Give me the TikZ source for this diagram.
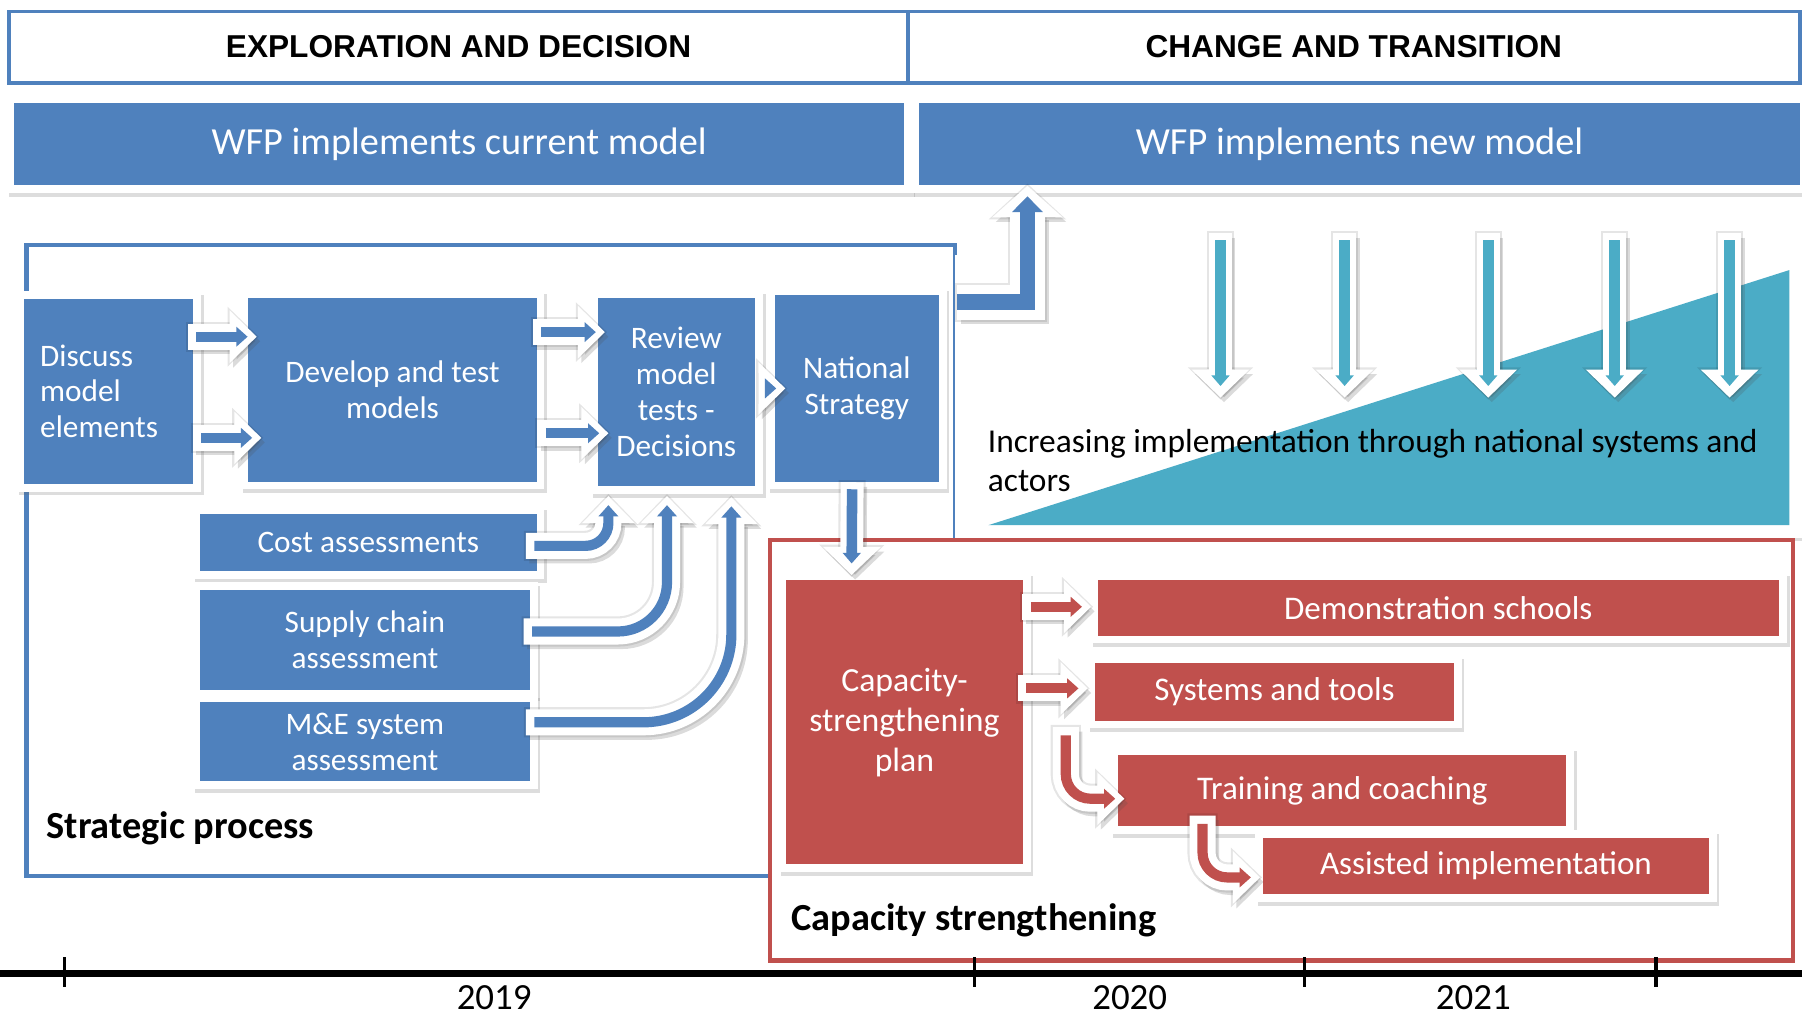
\documentclass[tikz,border=0pt]{standalone}
\usepackage{fontspec}
\setmainfont{Carlito}
\newfontfamily\headfont{Liberation Sans}
\definecolor{wfpblue}{RGB}{79,129,189}
\definecolor{wfpred}{RGB}{192,80,77}
\definecolor{wfpteal}{RGB}{75,172,198}
\usetikzlibrary{positioning,arrows.meta,shadows,calc}
\newcommand{\px}{0.011492cm}

\begin{document}
\begin{tikzpicture}[x=\px, y=-\px,
        every node/.style={inner sep=0pt},
        boxsize/.style 2 args={minimum width=#1*\px, minimum height=#2*\px},
        box/.style={rectangle, fill=#1, text=white, align=center,
            general shadow={fill=black!60, draw=black!60, line width=4.4pt, opacity=0.22,
                shadow xshift=0.8pt, shadow yshift=-1.1pt},
            preaction={draw=white, line width=4.4pt}},
        bluebox/.style={box=wfpblue, font=\fontsize{8.9}{10.2}\selectfont},
        redbox/.style={box=wfpred, font=\fontsize{9.4}{11.3}\selectfont},
        barbox/.style={box=wfpblue, font=\fontsize{10.9}{13}\selectfont},
        headbox/.style={rectangle, draw=wfpblue, line width=1.1pt, fill=white,
            font=\headfont\bfseries\fontsize{9}{11}\selectfont},
        areaframe/.style={rectangle, draw=#1, line width=1.2pt},
        framelabel/.style={anchor=west, font=\bfseries\fontsize{10.9}{13}\selectfont},
        yearlabel/.style={font=\fontsize{10.5}{12}\selectfont},
        fatarrow/.style={
            preaction={draw=black, opacity=0.1, line width=8.6pt, shorten >=-0.6pt, shorten <=-0.6pt,
                -{Triangle[length=8.9pt,width=16.5pt]}},
            preaction={draw=black!70, opacity=0.2, line width=7.4pt, shorten >=0pt, shorten <=0pt,
                transform canvas={shift={(1pt,-1.3pt)}}, -{Triangle[length=7.7pt,width=14.5pt]}},
            preaction={draw=white, line width=7.4pt, shorten >=0pt, shorten <=0pt,
                -{Triangle[length=7.7pt,width=14.5pt]}},
            draw=#1, line width=2.9pt, shorten >=2.6pt, shorten <=2.4pt,
            -{Triangle[length=3.2pt,width=5.5pt]}},
        bigarrow/.style={
            preaction={draw=black, opacity=0.1, line width=11.2pt, shorten >=-0.6pt, shorten <=-0.6pt,
                -{Triangle[length=10.2pt,width=21.5pt]}},
            preaction={draw=black!70, opacity=0.2, line width=10pt, shorten >=0pt, shorten <=0pt,
                transform canvas={shift={(1pt,-1.3pt)}}, -{Triangle[length=9pt,width=19.5pt]}},
            preaction={draw=white, line width=10pt, shorten >=0pt, shorten <=0pt,
                -{Triangle[length=9pt,width=19.5pt]}},
            draw=#1, line width=4.5pt, shorten >=3pt, shorten <=0pt,
            -{Triangle[length=4.5pt,width=8.5pt]}},
        thinarrow/.style={
            preaction={draw=black, opacity=0.1, line width=7.7pt, shorten >=-0.6pt, shorten <=-0.6pt,
                -{Triangle[length=9.2pt,width=18pt]}},
            preaction={draw=black!70, opacity=0.2, line width=6.5pt, shorten >=0pt, shorten <=0pt,
                transform canvas={shift={(1pt,-1.3pt)}}, -{Triangle[length=8pt,width=16pt]}},
            preaction={draw=white, line width=6.5pt, shorten >=0pt, shorten <=0pt,
                -{Triangle[length=8pt,width=16pt]}},
            draw=#1, line width=3pt, shorten >=3.3pt, shorten <=2pt,
            -{Triangle[length=3pt,width=5pt]}}
        ]
        \useasboundingbox (0,0) rectangle (1568,884);

        % the two phases
        \node[headbox, boxsize={782}{62}] (phase1) at (399,41) {EXPLORATION AND DECISION};
        \node[headbox, boxsize={776}{62}] (phase2) at (1178,41) {CHANGE AND TRANSITION};
        \node[barbox, boxsize={775}{71}] (curbar) at (399.5,125.5) {WFP implements current model};
        \node[barbox, boxsize={766}{71}] (newbar) at (1183,125.5) {WFP implements new model};

        % the strategic process
        \node[areaframe=wfpblue, boxsize={808}{549}] (strat) at (427,487.5) {};

        % national systems panel
        \node[box=white, boxsize={723}{232}] (panel) at (1199.5,345) {};
        \fill[wfpteal] (860,457) -- (1557,235) -- (1557,457) -- cycle;
        \foreach \x in {1062,1170,1295,1405,1505}
            \draw[thinarrow=wfpteal] (\x,203) -- (\x,346);
        \node[anchor=west, align=left, font=\fontsize{9.5}{11}\selectfont] (incr) at (859,401)
            {Increasing implementation through national systems and\\actors};

        % capacity strengthening
        \node[areaframe=wfpred, fill=white, line width=1.3pt, boxsize={890}{366}] (capframe) at (1115,653) {};

        % the blue steps
        \node[bluebox, boxsize={147}{161}, align=left, text width=1.367cm, inner xsep=0.161cm] (discuss) at (94.5,340.5)
            {Discuss\\model\\elements};
        \node[bluebox, boxsize={251}{160}] (develop) at (341.5,339) {Develop and test\\models};
        \node[bluebox, boxsize={137}{164}] (review) at (588.5,341) {Review\\model\\tests -\\Decisions};
        \node[bluebox, boxsize={143}{162}] (national) at (745.5,338) {National\\Strategy};
        \node[bluebox, boxsize={293}{50}] (cost) at (320.5,472) {Cost assessments};
        \node[bluebox, boxsize={287}{87}] (supply) at (317.5,556.5) {Supply chain\\assessment};
        \node[bluebox, boxsize={287}{69}] (mande) at (317.5,645.5) {M\&E system\\assessment};

        % the red steps
        \node[redbox, boxsize={206}{247}, font=\fontsize{9.6}{11.4}\selectfont] (cplan) at (787,628.5)
            {Capacity-\\strengthening\\plan};
        \node[redbox, boxsize={593}{48}] (demo) at (1251.5,529) {Demonstration schools};
        \node[redbox, boxsize={312}{50}] (systools) at (1109,602) {Systems and tools};
        \node[redbox, boxsize={390}{62}] (training) at (1168,688) {Training and coaching};
        \node[redbox, boxsize={388}{49}] (assisted) at (1293,753.5) {Assisted implementation};

        % the arrows
        \draw[fatarrow=wfpblue] ($(discuss.east|-0,293)+(-5,0)$) -- ($(develop.west|-0,293)+(8,0)$);
        \draw[fatarrow=wfpblue] ($(discuss.east|-0,381)+(-1,0)$) -- ($(develop.west|-0,381)+(12,0)$);
        \draw[fatarrow=wfpblue] ($(develop.east|-0,289)+(-4,0)$) -- ($(review.west|-0,289)+(7,0)$);
        \draw[fatarrow=wfpblue] (develop.east|-0,377) -- ($(review.west|-0,377)+(10,0)$);
        \draw[fatarrow=wfpblue] ($(review.east|-0,338)+(3,0)$) -- ($(national.west|-0,338)+(10,0)$);
        \draw[fatarrow=wfpblue, rounded corners=6.5pt] ($(cost.east)+(-10,3)$) -| ($(review.south west)+(10,8)$);
        \draw[fatarrow=wfpblue, rounded corners=14pt] ($(supply.east)+(-6,-7)$) -| ($(review.south west)+(61,8)$);
        \draw[fatarrow=wfpblue, rounded corners=25pt] ($(mande.east)+(-4,-17)$) -| ($(review.south west)+(117,9)$);
        \draw[bigarrow=wfpblue] (strat.east|-0,263) -| (newbar.south-|894,0);
        \draw[thinarrow=wfpblue] ($(national.south)+(-4,0)$) -- ($(cplan.north)+(-46,-4)$);

        \draw[fatarrow=wfpred] ($(cplan.east|-0,528)+(-1,0)$) -- ($(demo.west|-0,528)+(-5,0)$);
        \draw[fatarrow=wfpred] ($(cplan.east|-0,599)+(-5,0)$) -- ($(systools.west|-0,599)+(-6,0)$);
        \draw[fatarrow=wfpred, rounded corners=7pt] ($(systools.south west)+(-25,5)$) |- ($(training.west)+(6,7)$);
        \draw[fatarrow=wfpred, rounded corners=7pt] ($(training.south west)+(74,-10)$) |- ($(assisted.west)+(-2,10)$);

        % labels
        \node[framelabel] (stratlabel) at (40,721) {Strategic process};
        \node[framelabel] (caplabel) at (688,801) {Capacity strengthening};

        % the time line
        \draw[line width=2pt] (0,847) -- (1568,847);
        \foreach \x in {56,848,1135,1441}
            \draw[line width=1pt] (\x,833) -- (\x,859);
        \node[yearlabel] (y2019) at (430,868) {2019};
        \node[yearlabel] (y2020) at (983,868) {2020};
        \node[yearlabel] (y2021) at (1282,868) {2021};
\end{tikzpicture}
\end{document}
